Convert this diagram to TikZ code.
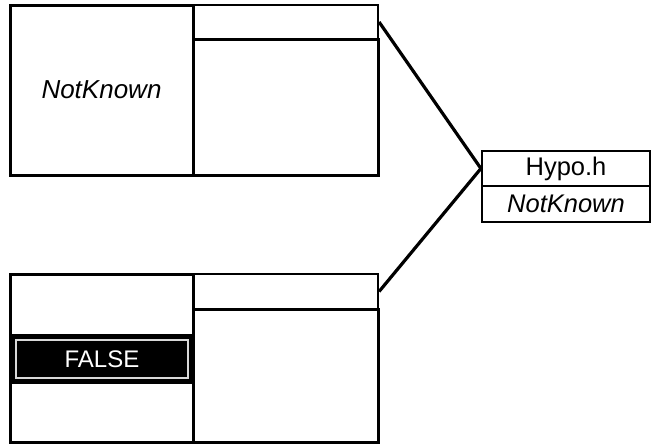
\documentclass[tikz,border=0pt]{standalone}
\usepackage{fontspec}
\setmainfont{Liberation Sans}
\usetikzlibrary{positioning}
\tikzset{
  cell/.style={rectangle,draw=black,line width=3pt,inner sep=0pt,font=\fontsize{26}{28}\selectfont},
  strip/.style={rectangle,draw=black,line width=2.2pt,inner sep=0pt,font=\fontsize{25.5}{28}\selectfont},
  valbar/.style={rectangle,fill=black,inner sep=0pt},
  valframe/.style={rectangle,draw=black!15,line width=1.6pt,inner sep=0pt,text=white,font=\fontsize{24}{26}\selectfont},
  link/.style={draw=black,line width=3.2pt},
}
\begin{document}
\begin{tikzpicture}[x=1pt,y=-1pt]
  \useasboundingbox (0,0) rectangle (655,445);
  % upper node
  \node[cell,minimum width=183pt,minimum height=170pt] (upval) at (101.5,90) {\itshape NotKnown};
  \node[strip,minimum width=185pt,minimum height=34pt] (upstrip) at (285.5,22) {};
  \node[cell,minimum width=185pt,minimum height=136pt] (upbody) at (285.5,107) {};
  % lower node
  \node[cell,minimum width=183pt,minimum height=168pt] (lowval) at (101.5,358) {};
  \node[valbar,minimum width=183pt,minimum height=50pt] (lowbar) at (101.5,359) {};
  \node[valframe,minimum width=172pt,minimum height=38pt] (lowfalse) at (102,359) {FALSE};
  \node[strip,minimum width=185pt,minimum height=35pt] (lowstrip) at (285.5,291.5) {};
  \node[cell,minimum width=185pt,minimum height=133pt] (lowbody) at (285.5,375.5) {};
  % hypothesis
  \node[strip,minimum width=168pt,minimum height=35pt] (hypo) at (566,168.5) {Hypo.h};
  \node[strip,minimum width=168pt,minimum height=36pt] (hypoval) at (566,204) {\itshape NotKnown};
  \draw[link] (upstrip.east) -- (hypo.west);
  \draw[link] (lowstrip.east) -- (hypo.west);
\end{tikzpicture}
\end{document}
